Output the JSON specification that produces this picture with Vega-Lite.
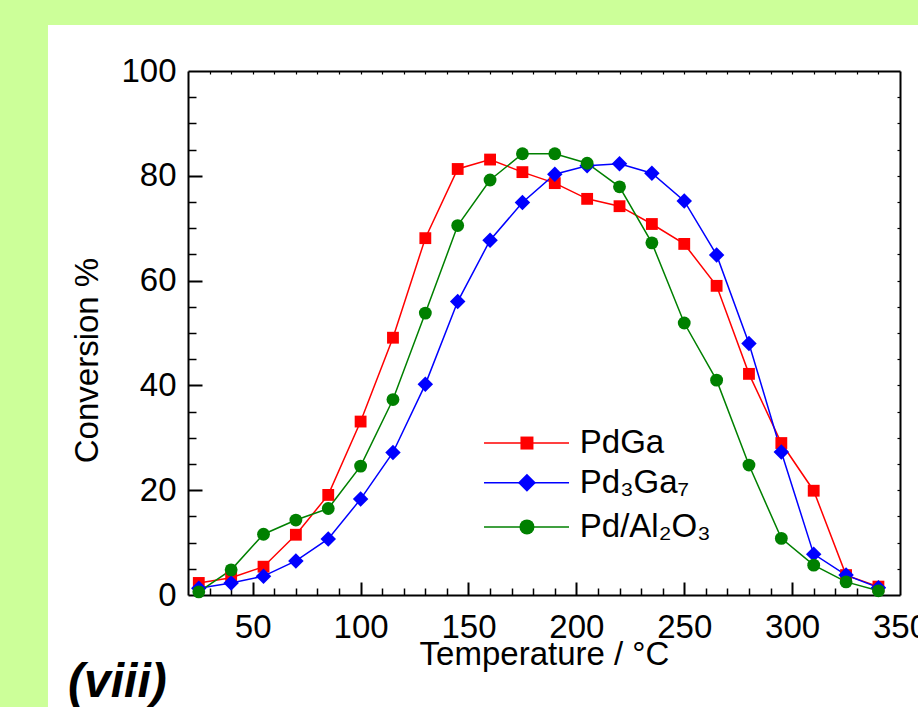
{
  "$schema": "https://vega.github.io/schema/vega-lite/v6.json",
  "width": 712,
  "height": 524,
  "autosize": {"type": "none"},
  "padding": {"left": 188, "top": 71, "right": 18, "bottom": 112},
  "background": "white",
  "config": {
    "font": "Liberation Sans",
    "view": {"stroke": null},
    "axis": {"grid": false, "domainColor": "black", "tickColor": "black", "labelColor": "black", "titleColor": "black"}
  },
  "datasets": {
    "conv": [
      {"T": 25, "conv": 2.3, "series": "PdGa"},
      {"T": 40, "conv": 3.3, "series": "PdGa"},
      {"T": 55, "conv": 5.4, "series": "PdGa"},
      {"T": 70, "conv": 11.5, "series": "PdGa"},
      {"T": 85, "conv": 19.1, "series": "PdGa"},
      {"T": 100, "conv": 33.1, "series": "PdGa"},
      {"T": 115, "conv": 49.1, "series": "PdGa"},
      {"T": 130, "conv": 68.1, "series": "PdGa"},
      {"T": 145, "conv": 81.3, "series": "PdGa"},
      {"T": 160, "conv": 83.1, "series": "PdGa"},
      {"T": 175, "conv": 80.7, "series": "PdGa"},
      {"T": 190, "conv": 78.6, "series": "PdGa"},
      {"T": 205, "conv": 75.6, "series": "PdGa"},
      {"T": 220, "conv": 74.2, "series": "PdGa"},
      {"T": 235, "conv": 70.8, "series": "PdGa"},
      {"T": 250, "conv": 67.0, "series": "PdGa"},
      {"T": 265, "conv": 59.0, "series": "PdGa"},
      {"T": 280, "conv": 42.2, "series": "PdGa"},
      {"T": 295, "conv": 29.0, "series": "PdGa"},
      {"T": 310, "conv": 19.9, "series": "PdGa"},
      {"T": 325, "conv": 3.8, "series": "PdGa"},
      {"T": 340, "conv": 1.6, "series": "PdGa"},
      {"T": 25, "conv": 1.3, "series": "Pd₃Ga₇"},
      {"T": 40, "conv": 2.3, "series": "Pd₃Ga₇"},
      {"T": 55, "conv": 3.6, "series": "Pd₃Ga₇"},
      {"T": 70, "conv": 6.5, "series": "Pd₃Ga₇"},
      {"T": 85, "conv": 10.7, "series": "Pd₃Ga₇"},
      {"T": 100, "conv": 18.3, "series": "Pd₃Ga₇"},
      {"T": 115, "conv": 27.2, "series": "Pd₃Ga₇"},
      {"T": 130, "conv": 40.2, "series": "Pd₃Ga₇"},
      {"T": 145, "conv": 56.0, "series": "Pd₃Ga₇"},
      {"T": 160, "conv": 67.7, "series": "Pd₃Ga₇"},
      {"T": 175, "conv": 74.9, "series": "Pd₃Ga₇"},
      {"T": 190, "conv": 80.3, "series": "Pd₃Ga₇"},
      {"T": 205, "conv": 81.9, "series": "Pd₃Ga₇"},
      {"T": 220, "conv": 82.3, "series": "Pd₃Ga₇"},
      {"T": 235, "conv": 80.5, "series": "Pd₃Ga₇"},
      {"T": 250, "conv": 75.2, "series": "Pd₃Ga₇"},
      {"T": 265, "conv": 64.9, "series": "Pd₃Ga₇"},
      {"T": 280, "conv": 48.0, "series": "Pd₃Ga₇"},
      {"T": 295, "conv": 27.3, "series": "Pd₃Ga₇"},
      {"T": 310, "conv": 7.8, "series": "Pd₃Ga₇"},
      {"T": 325, "conv": 3.8, "series": "Pd₃Ga₇"},
      {"T": 340, "conv": 1.4, "series": "Pd₃Ga₇"},
      {"T": 25, "conv": 0.6, "series": "Pd/Al₂O₃"},
      {"T": 40, "conv": 4.8, "series": "Pd/Al₂O₃"},
      {"T": 55, "conv": 11.6, "series": "Pd/Al₂O₃"},
      {"T": 70, "conv": 14.3, "series": "Pd/Al₂O₃"},
      {"T": 85, "conv": 16.5, "series": "Pd/Al₂O₃"},
      {"T": 100, "conv": 24.6, "series": "Pd/Al₂O₃"},
      {"T": 115, "conv": 37.3, "series": "Pd/Al₂O₃"},
      {"T": 130, "conv": 53.8, "series": "Pd/Al₂O₃"},
      {"T": 145, "conv": 70.5, "series": "Pd/Al₂O₃"},
      {"T": 160, "conv": 79.2, "series": "Pd/Al₂O₃"},
      {"T": 175, "conv": 84.2, "series": "Pd/Al₂O₃"},
      {"T": 190, "conv": 84.2, "series": "Pd/Al₂O₃"},
      {"T": 205, "conv": 82.4, "series": "Pd/Al₂O₃"},
      {"T": 220, "conv": 77.9, "series": "Pd/Al₂O₃"},
      {"T": 235, "conv": 67.2, "series": "Pd/Al₂O₃"},
      {"T": 250, "conv": 51.9, "series": "Pd/Al₂O₃"},
      {"T": 265, "conv": 41.0, "series": "Pd/Al₂O₃"},
      {"T": 280, "conv": 24.8, "series": "Pd/Al₂O₃"},
      {"T": 295, "conv": 10.8, "series": "Pd/Al₂O₃"},
      {"T": 310, "conv": 5.7, "series": "Pd/Al₂O₃"},
      {"T": 325, "conv": 2.5, "series": "Pd/Al₂O₃"},
      {"T": 340, "conv": 0.8, "series": "Pd/Al₂O₃"}
    ]
  },
  "layer": [
    {
      "description": "green margin strip along the left edge; also carries the top and right frame axes",
      "data": {"values": [{}]},
      "mark": {"type": "rect", "color": "#ccff99"},
      "encoding": {
        "x": {"datum": -70, "type": "quantitative", "scale": {"domain": [20, 350], "nice": false, "zero": false},
              "axis": {"orient": "top", "values": [30, 40, 50, 60, 70, 80, 90, 100, 110, 120, 130, 140, 150, 160, 170, 180, 190, 200, 210, 220, 230, 240, 250, 260, 270, 280, 290, 300, 310, 320, 330, 340],
                       "tickSize": -3, "tickWidth": 1.2, "labels": false, "domainWidth": 2, "title": null}},
        "x2": {"datum": -44.9},
        "y": {"datum": 115, "type": "quantitative", "scale": {"domain": [0, 100], "nice": false, "zero": false},
              "axis": {"orient": "right", "values": [5, 10, 15, 20, 25, 30, 35, 40, 45, 50, 55, 60, 65, 70, 75, 80, 85, 90, 95],
                       "tickSize": -3, "tickWidth": 1.2, "labels": false, "domainWidth": 2, "title": null}},
        "y2": {"datum": -25}
      }
    },
    {
      "description": "green margin strip along the top edge",
      "data": {"values": [{}]},
      "mark": {"type": "rect", "color": "#ccff99"},
      "encoding": {
        "x": {"datum": -70, "type": "quantitative", "scale": {"domain": [20, 350], "nice": false, "zero": false}, "axis": null},
        "x2": {"datum": 360},
        "y": {"datum": 115, "type": "quantitative", "scale": {"domain": [0, 100], "nice": false, "zero": false}, "axis": null},
        "y2": {"datum": 108.8}
      }
    },
    {
      "data": {"name": "conv"},
      "mark": {"type": "line", "strokeWidth": 1.5},
      "encoding": {
        "x": {"field": "T", "type": "quantitative", "scale": {"domain": [20, 350], "nice": false, "zero": false},
              "axis": {"orient": "bottom", "values": [50, 100, 150, 200, 250, 300, 350], "ticks": false, "labelPadding": 16,
                       "labelFontSize": 33, "labelFlush": false, "labelOverlap": false, "labelBound": false, "domainWidth": 2,
                       "title": "Temperature / °C", "titleFontSize": 33, "titleFontWeight": "normal", "titleBaseline": "alphabetic", "titleY": 69}},
        "y": {"field": "conv", "type": "quantitative", "scale": {"domain": [0, 100], "nice": false, "zero": false},
              "axis": {"orient": "left", "values": [0, 20, 40, 60, 80, 100], "ticks": false, "labelPadding": 12,
                       "labelFontSize": 33, "labelFlush": false, "labelOverlap": false, "domainWidth": 2,
                       "title": "Conversion %", "titleFontSize": 33, "titleFontWeight": "normal", "titleAngle": 270,
                       "titleBaseline": "middle", "titleX": -101, "titleY": 289}},
        "stroke": {"field": "series", "type": "nominal",
                   "scale": {"domain": ["PdGa", "Pd₃Ga₇", "Pd/Al₂O₃"], "range": ["#ff0000", "#0000ff", "#008000"]}, "legend": null}
      }
    },
    {
      "data": {"name": "conv"},
      "transform": [{"filter": "datum.series === 'PdGa'"}],
      "mark": {"type": "point", "shape": "square", "filled": true, "size": 140, "color": "#ff0000", "opacity": 1},
      "encoding": {
        "x": {"field": "T", "type": "quantitative", "scale": {"domain": [20, 350], "nice": false, "zero": false},
              "axis": {"orient": "bottom", "values": [50, 100, 150, 200, 250, 300], "tickSize": -13, "tickWidth": 2, "labels": false, "domain": false, "title": null}},
        "y": {"field": "conv", "type": "quantitative", "scale": {"domain": [0, 100], "nice": false, "zero": false},
              "axis": {"orient": "left", "values": [20, 40, 60, 80], "tickSize": -14, "tickWidth": 2, "labels": false, "domain": false, "title": null}}
      }
    },
    {
      "data": {"name": "conv"},
      "transform": [{"filter": "datum.series === 'Pd₃Ga₇'"}],
      "mark": {"type": "point", "shape": "diamond", "filled": true, "size": 240, "color": "#0000ff", "opacity": 1},
      "encoding": {
        "x": {"field": "T", "type": "quantitative", "scale": {"domain": [20, 350], "nice": false, "zero": false},
              "axis": {"orient": "bottom", "values": [30, 40, 60, 70, 80, 90, 110, 120, 130, 140, 160, 170, 180, 190, 210, 220, 230, 240, 260, 270, 280, 290, 310, 320, 330, 340],
                       "tickSize": -7, "tickWidth": 1.5, "labels": false, "domain": false, "title": null}},
        "y": {"field": "conv", "type": "quantitative", "scale": {"domain": [0, 100], "nice": false, "zero": false},
              "axis": {"orient": "left", "values": [5, 10, 15, 25, 30, 35, 45, 50, 55, 65, 70, 75, 85, 90, 95],
                       "tickSize": -8, "tickWidth": 1.5, "labels": false, "domain": false, "title": null}}
      }
    },
    {
      "data": {"name": "conv"},
      "transform": [{"filter": "datum.series === 'Pd/Al₂O₃'"}],
      "mark": {"type": "point", "shape": "circle", "filled": true, "size": 165, "color": "#008000", "opacity": 1},
      "encoding": {
        "x": {"field": "T", "type": "quantitative", "scale": {"domain": [20, 350], "nice": false, "zero": false}, "axis": null},
        "y": {"field": "conv", "type": "quantitative", "scale": {"domain": [0, 100], "nice": false, "zero": false}, "axis": null}
      }
    },
    {
      "description": "key: PdGa line sample",
      "data": {"values": [{}]},
      "mark": {"type": "rule", "color": "#ff0000", "strokeWidth": 1.5},
      "encoding": {
        "x": {"datum": 157.2, "type": "quantitative", "scale": {"domain": [20, 350], "nice": false, "zero": false}, "axis": null},
        "x2": {"datum": 196.6},
        "y": {"datum": 29.0, "type": "quantitative", "scale": {"domain": [0, 100], "nice": false, "zero": false}, "axis": null}
      }
    },
    {
      "description": "key: Pd3Ga7 line sample",
      "data": {"values": [{}]},
      "mark": {"type": "rule", "color": "#0000ff", "strokeWidth": 1.5},
      "encoding": {
        "x": {"datum": 157.2, "type": "quantitative", "scale": {"domain": [20, 350], "nice": false, "zero": false}, "axis": null},
        "x2": {"datum": 196.6},
        "y": {"datum": 21.4, "type": "quantitative", "scale": {"domain": [0, 100], "nice": false, "zero": false}, "axis": null}
      }
    },
    {
      "description": "key: Pd/Al2O3 line sample",
      "data": {"values": [{}]},
      "mark": {"type": "rule", "color": "#008000", "strokeWidth": 1.5},
      "encoding": {
        "x": {"datum": 157.2, "type": "quantitative", "scale": {"domain": [20, 350], "nice": false, "zero": false}, "axis": null},
        "x2": {"datum": 196.6},
        "y": {"datum": 13.0, "type": "quantitative", "scale": {"domain": [0, 100], "nice": false, "zero": false}, "axis": null}
      }
    },
    {
      "data": {"values": [{}]},
      "mark": {"type": "point", "shape": "square", "filled": true, "size": 169, "color": "#ff0000", "opacity": 1},
      "encoding": {
        "x": {"datum": 177.1, "type": "quantitative", "scale": {"domain": [20, 350], "nice": false, "zero": false}, "axis": null},
        "y": {"datum": 29.0, "type": "quantitative", "scale": {"domain": [0, 100], "nice": false, "zero": false}, "axis": null}
      }
    },
    {
      "data": {"values": [{}]},
      "mark": {"type": "point", "shape": "diamond", "filled": true, "size": 324, "color": "#0000ff", "opacity": 1},
      "encoding": {
        "x": {"datum": 177.1, "type": "quantitative", "scale": {"domain": [20, 350], "nice": false, "zero": false}, "axis": null},
        "y": {"datum": 21.4, "type": "quantitative", "scale": {"domain": [0, 100], "nice": false, "zero": false}, "axis": null}
      }
    },
    {
      "data": {"values": [{}]},
      "mark": {"type": "point", "shape": "circle", "filled": true, "size": 225, "color": "#008000", "opacity": 1},
      "encoding": {
        "x": {"datum": 177.1, "type": "quantitative", "scale": {"domain": [20, 350], "nice": false, "zero": false}, "axis": null},
        "y": {"datum": 13.0, "type": "quantitative", "scale": {"domain": [0, 100], "nice": false, "zero": false}, "axis": null}
      }
    },
    {
      "data": {"values": [{}]},
      "mark": {"type": "text", "text": "PdGa", "fontSize": 33, "align": "left", "baseline": "middle", "color": "black"},
      "encoding": {
        "x": {"datum": 201.6, "type": "quantitative", "scale": {"domain": [20, 350], "nice": false, "zero": false}, "axis": null},
        "y": {"datum": 29.0, "type": "quantitative", "scale": {"domain": [0, 100], "nice": false, "zero": false}, "axis": null}
      }
    },
    {
      "data": {"values": [{}]},
      "mark": {"type": "text", "text": "Pd₃Ga₇", "fontSize": 33, "align": "left", "baseline": "middle", "color": "black"},
      "encoding": {
        "x": {"datum": 201.6, "type": "quantitative", "scale": {"domain": [20, 350], "nice": false, "zero": false}, "axis": null},
        "y": {"datum": 21.4, "type": "quantitative", "scale": {"domain": [0, 100], "nice": false, "zero": false}, "axis": null}
      }
    },
    {
      "data": {"values": [{}]},
      "mark": {"type": "text", "text": "Pd/Al₂O₃", "fontSize": 33, "align": "left", "baseline": "middle", "color": "black"},
      "encoding": {
        "x": {"datum": 201.6, "type": "quantitative", "scale": {"domain": [20, 350], "nice": false, "zero": false}, "axis": null},
        "y": {"datum": 13.0, "type": "quantitative", "scale": {"domain": [0, 100], "nice": false, "zero": false}, "axis": null}
      }
    },
    {
      "data": {"values": [{}]},
      "mark": {"type": "text", "text": "(viii)", "fontSize": 48, "fontWeight": "bold", "fontStyle": "italic",
               "align": "left", "baseline": "alphabetic", "color": "black"},
      "encoding": {
        "x": {"datum": -35.6, "type": "quantitative", "scale": {"domain": [20, 350], "nice": false, "zero": false}, "axis": null},
        "y": {"datum": -19.5, "type": "quantitative", "scale": {"domain": [0, 100], "nice": false, "zero": false}, "axis": null}
      }
    }
  ],
  "resolve": {"axis": {"x": "independent", "y": "independent"}}
}
